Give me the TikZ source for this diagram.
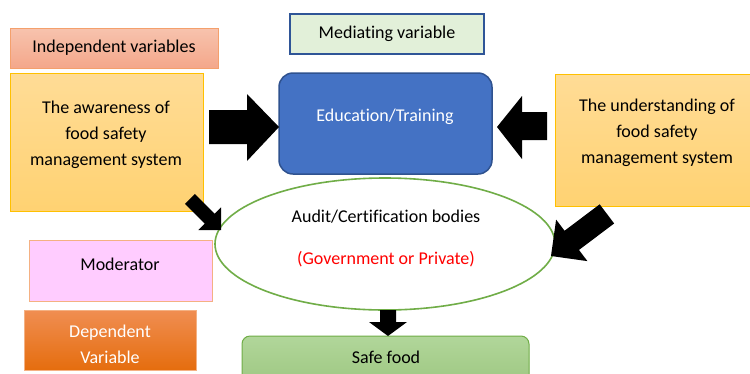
\documentclass[tikz,border=0pt]{standalone}
\usepackage{fontspec}
\setmainfont[Ligatures=NoCommon]{Carlito}
\usetikzlibrary{shapes.geometric}
\definecolor{indepLine}{HTML}{F4A06C}
\definecolor{indepTop}{HTML}{F7C3AE}
\definecolor{indepBot}{HTML}{F4A78A}
\definecolor{ivTop}{HTML}{FFDC96}
\definecolor{ivBot}{HTML}{FFD272}
\definecolor{ivLine}{HTML}{FFC000}
\definecolor{medFill}{HTML}{E2F0D9}
\definecolor{medLine}{HTML}{2F5597}
\definecolor{eduFill}{HTML}{4472C4}
\definecolor{eduLine}{HTML}{2F528F}
\definecolor{modFill}{HTML}{FFCCFF}
\definecolor{modLine}{HTML}{F4B183}
\definecolor{depTop}{HTML}{F08E52}
\definecolor{depBot}{HTML}{E56D0E}
\definecolor{safeTop}{HTML}{B1D69A}
\definecolor{safeBot}{HTML}{9CC67F}
\definecolor{grn}{HTML}{70AD47}
\tikzset{
  x=1pt, y=-1pt,
  txt/.style={align=center, inner sep=0pt, font=\fontsize{18}{26}\selectfont},
  blockarrow/.style={fill=black, draw=none},
}
\begin{document}
\begin{tikzpicture}
\useasboundingbox (0,0) rectangle (750,373);
\clip (0,0) rectangle (750,373);
\fill[white] (0,0) rectangle (750,373);

% independent variables label
\shade[top color=indepTop, bottom color=indepBot, draw=indepLine, line width=1pt]
  (10,28) rectangle (218,68);
\node[txt] (indep) at (114,48) {Independent variables};

% awareness box
\shade[top color=ivTop, bottom color=ivBot, draw=ivLine, line width=1pt]
  (10,73) rectangle (203,211);
\node[txt] (aware) at (106,135) {The awareness of\\food safety\\management system};

% mediating variable label
\fill[medFill, draw=medLine, line width=1.6pt] (290,14) rectangle (484,54);
\node[txt] (med) at (387,34) {Mediating variable};

% education / training
\fill[eduFill, draw=eduLine, line width=1.5pt, rounded corners=14pt] (279,73) rectangle (492,174);
\node[txt, text=white] (edu) at (385,117) {Education/Training};

% understanding box
\shade[top color=ivTop, bottom color=ivBot, draw=ivLine, line width=1pt]
  (555,74) rectangle (754,206);
\node[txt] (under) at (657,133) {The understanding of\\food safety\\management system};

% audit / certification ellipse
\draw[grn, line width=1.6pt, fill=white] (385,244) ellipse [x radius=170, y radius=66];
\node[txt] (audit) at (386,217) {Audit/Certification bodies};
\node[txt, text=red] (gov) at (386,259) {(Government or Private)};

% moderator
\fill[modFill, draw=modLine, line width=1pt] (29,240) rectangle (212,301);
\node[txt] (mod) at (120,264) {Moderator};

% dependent variable
\begin{scope}
\clip (24,310) rectangle (196,370);
\shade[top color=depTop, bottom color=depBot] (24,310) rectangle (196,370);
\node[txt, text=white] (dep) at (110,344) {Dependent\\Variable};
\end{scope}
\draw[modLine, line width=0.8pt] (24,310) rectangle (196,370);

% safe food
\shade[top color=safeTop, bottom color=safeBot, draw=grn, line width=1pt, rounded corners=8pt]
  (242,336) rectangle (529,390);
\node[txt] (safe) at (386,357) {Safe food};

% block arrows
\fill[blockarrow] (209,110) -- (247,110) -- (247,94) -- (279,127) -- (247,161) -- (247,144) -- (209,144) -- cycle;
\fill[blockarrow] (547,112) -- (522,112) -- (522,96) -- (497,127) -- (522,159) -- (522,140) -- (547,140) -- cycle;
\begin{scope}[shift={(221,230)}, rotate=135]
  \fill[blockarrow] (0,0) -- (16,-16) -- (16,-7) -- (44,-7) -- (44,7) -- (16,7) -- (16,16) -- cycle;
\end{scope}
\begin{scope}[shift={(551,256)}, rotate=37]
  \fill[blockarrow] (0,0) -- (26,-26) -- (26,-12) -- (70,-12) -- (70,12) -- (26,12) -- (26,26) -- cycle;
\end{scope}
\fill[blockarrow] (380,310) -- (396,310) -- (396,322) -- (407,322) -- (388,336) -- (369,322) -- (380,322) -- cycle;
\end{tikzpicture}
\end{document}
